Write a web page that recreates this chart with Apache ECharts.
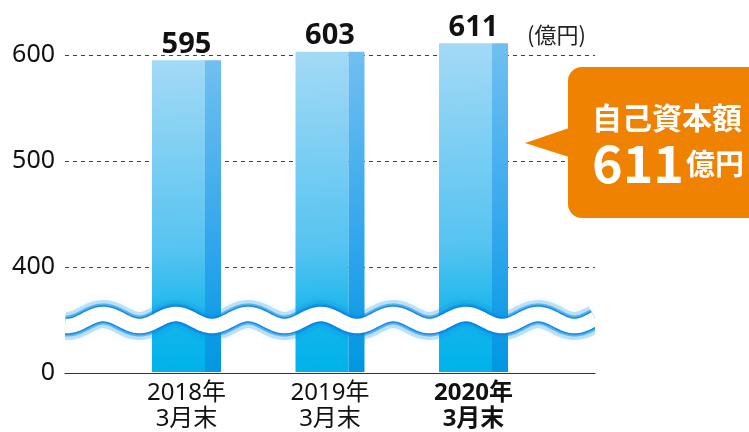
<!DOCTYPE html>
<html>
<head>
<meta charset="utf-8">
<script src="https://cdn.jsdelivr.net/npm/echarts@6/dist/echarts.min.js"></script>
<style>
html,body{margin:0;padding:0;background:#fff;}
#chart{width:749px;height:432px;}
</style>
</head>
<body>
<div id="chart"></div>
<script>
// ---- data ----
const categories = ['2018年\n3月末', '2019年\n3月末', '2020年\n3月末'];
const values = [595, 603, 611];
const yTicks = [300, 400, 500, 600];          // 300 is drawn as "0" (broken axis)
const yTickLabels = ['0', '400', '500', '600'];
const unitLabel = '(億円)';
const calloutTitle = '自己資本額';
const calloutValue = '611';
const calloutUnit = '億円';
const breakValue = 350;                        // axis-break wave sits here

const FONT = '"Noto Sans", "Noto Sans CJK JP", sans-serif';
const CJK = '"Noto Sans CJK JP", "Noto Sans", sans-serif';
const chart = echarts.init(document.getElementById('chart'));

const frontGrad = new echarts.graphic.LinearGradient(0, 0, 0.25, 1, [
  {offset: 0, color: '#a3daf6'},
  {offset: 0.62, color: '#55c3f1'},
  {offset: 0.85, color: '#12b6ec'},
  {offset: 1, color: '#00b2ea'}
]);
const sideGrad = new echarts.graphic.LinearGradient(0, 0, 0, 1, [
  {offset: 0, color: '#70bff1'},
  {offset: 0.62, color: '#2ea5ec'},
  {offset: 1, color: '#0097e2'}
]);

const option = {
  animation: false,
  backgroundColor: '#fff',
  grid: [
    {left: 65, right: 154, top: 2, bottom: 59},
    {left: 114.75, right: 203.75, top: 2, bottom: 59}
  ],
  xAxis: [
    {gridIndex: 0, type: 'value', min: 0, max: 1, show: true,
     axisLine: {show: true, onZero: false, lineStyle: {color: '#333', width: 1}},
     axisTick: {show: false}, axisLabel: {show: false}, splitLine: {show: false}},
    {gridIndex: 1, type: 'category', data: categories,
     axisLine: {show: false}, axisTick: {show: false},
     axisLabel: {
       interval: 0, hideOverlap: false,
       margin: 8, fontSize: 24, lineHeight: 26, color: '#111', fontFamily: FONT,
       formatter: function (v, i) {
         if (i === categories.length - 1) {
           return v.split('\n').map(s => '{b|' + s + '}').join('\n');
         }
         return v;
       },
       rich: {b: {fontWeight: 'bold', fontSize: 24, lineHeight: 26, color: '#111', fontFamily: FONT}}
     }}
  ],
  yAxis: [
    {gridIndex: 0, type: 'value', min: 300, max: 650, interval: 100,
     axisLine: {show: false}, axisTick: {show: false},
     axisLabel: {
       margin: 10, fontSize: 25, color: '#111', fontFamily: FONT, showMaxLabel: false,
       formatter: function (v) {
         const k = yTicks.indexOf(v);
         return k >= 0 ? yTickLabels[k] : '';
       }
     },
     splitLine: {show: true, showMinLine: false, showMaxLine: false,
       lineStyle: {color: '#444', type: [4, 4], width: 1}}},
    {gridIndex: 1, type: 'value', min: 300, max: 650, show: false}
  ],
  series: [{
    type: 'custom',
    xAxisIndex: 1, yAxisIndex: 1,
    data: values.map((v, i) => [i, v]),
    z: 5,
    renderItem: function (params, api) {
      const top = api.coord([api.value(0), api.value(1)]);
      const base = api.coord([api.value(0), 300]);
      const c = top[0];
      const h = base[1] - top[1];
      return {
        type: 'group',
        children: [
          {type: 'rect', shape: {x: c - 34.5, y: top[1], width: 53, height: h}, style: {fill: frontGrad}},
          {type: 'rect', shape: {x: c + 18.5, y: top[1], width: 16, height: h}, style: {fill: sideGrad}},
          {type: 'text', style: {
            text: String(api.value(1)), x: c, y: top[1] - 1,
            align: 'center', verticalAlign: 'bottom',
            font: 'bold 29px ' + FONT, fill: '#111'}}
        ]
      };
    }
  }]
};
chart.setOption(option);

// axis-break wave, positioned with the axis scale
const yc = chart.convertToPixel({yAxisIndex: 0}, breakValue);
const x0 = 65, x1 = 595;
const pts = [];
for (let x = x0; x <= x1; x += 1) {
  pts.push([x, yc + 6 * Math.cos(2 * Math.PI * (x - 67) / 72.5)]);
}
chart.setOption({
  graphic: [
    {type: 'polyline', z: 100, shape: {points: pts},
     style: {stroke: 'rgba(20,150,232,0.25)', lineWidth: 28, fill: null, lineCap: 'butt',
             shadowBlur: 6, shadowColor: 'rgba(20,150,232,0.35)'}},
    {type: 'polyline', z: 100, shape: {points: pts},
     style: {stroke: 'rgba(10,140,230,0.55)', lineWidth: 21, fill: null, lineCap: 'butt'}},
    {type: 'polyline', z: 100, shape: {points: pts},
     style: {stroke: 'rgba(0,125,225,0.75)', lineWidth: 17.5, fill: null, lineCap: 'butt'}},
    {type: 'polyline', z: 101, shape: {points: pts},
     style: {stroke: '#ffffff', lineWidth: 14.5, fill: null, lineCap: 'butt'}},
    {type: 'rect', z: 102, shape: {x: 40, y: yc - 30, width: 25, height: 60}, style: {fill: '#fff'}},
    {type: 'rect', z: 102, shape: {x: 595, y: yc - 30, width: 30, height: 60}, style: {fill: '#fff'}},
    {type: 'text', z: 110, style: {text: unitLabel, x: 527, y: 35, verticalAlign: 'middle',
      font: '22px ' + CJK, fill: '#222'}},
    {type: 'rect', z: 110, shape: {x: 568, y: 67, width: 220, height: 151, r: 14},
     style: {fill: '#ef8200'}},
    {type: 'polygon', z: 110, shape: {points: [[569, 128], [525, 143], [569, 157]]},
     style: {fill: '#ef8200'}},
    {type: 'text', z: 111, style: {text: calloutTitle, x: 592, y: 118, verticalAlign: 'middle',
      font: 'bold 30px ' + CJK, fill: '#fff'}},
    {type: 'text', z: 111, style: {text: calloutValue, x: 592, y: 163, verticalAlign: 'middle',
      font: 'bold 52px ' + CJK, fill: '#fff'}},
    {type: 'text', z: 111, style: {text: calloutUnit, x: 686, y: 164, verticalAlign: 'middle',
      font: 'bold 29px ' + CJK, fill: '#fff'}}
  ]
});
</script>
</body>
</html>
